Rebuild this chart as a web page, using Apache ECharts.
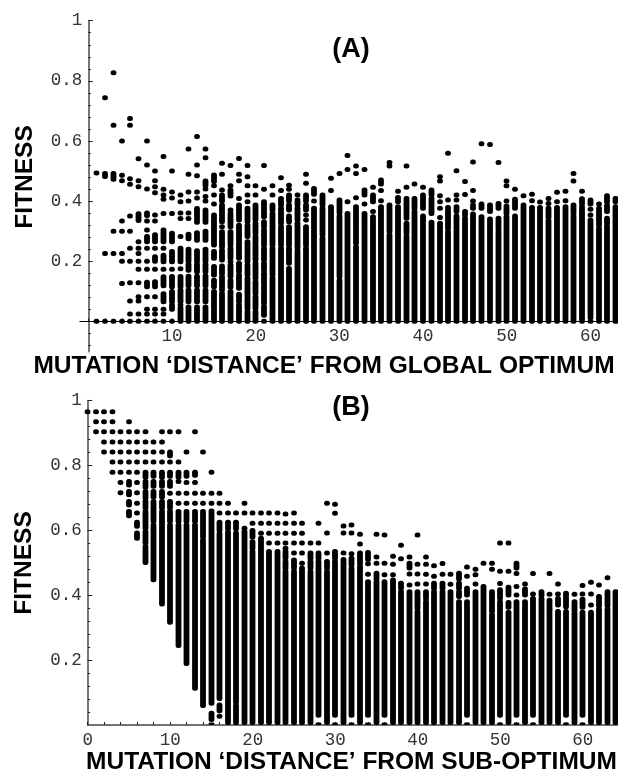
<!DOCTYPE html>
<html>
<head>
<meta charset="utf-8">
<style>
html,body{margin:0;padding:0;background:#fff;}
#chart{width:618px;height:773px;}
</style>
<script src="https://cdn.jsdelivr.net/npm/echarts@6/dist/echarts.min.js"></script>
</head>
<body>
<div id="chart"></div>
<script>
// one entry per column: a number is a lone dot, [lo,hi] is a stretch of overlapping dots
// panel A starts at x=1
const colsA = [
  [0,.493],
  [0,.226,[.482,.492],.744],
  [0,.226,.30,[.473,.492],.652,.827],
  [0,.126,.2,.226,.30,.334,.468,.486,.6],
  [0,.024,.068,.128,.2,.243,.30,.35,.456,.474,.652,.675],
  [0,.024,.068,.082,.128,.173,.2,.226,.243,.265,[.335,.358],.448,.468,.541],
  [0,.024,.04,.082,[.115,.13],.173,.2,.243,[.265,.282],.304,.334,[.352,.36],.44,.52,.6],
  [0,.024,.04,.082,[.115,.132],.173,[.2,.215],.243,[.265,.288],.334,.354,.428,.448,.468,.50],
  [0,.024,.04,[.065,.092],[.118,.148],.173,[.198,.22],.243,[.265,.304],.359,.406,.42,.439,.548],
  [0,[.04,.054],[.065,.099],[.115,.149],.173,[.198,.232],[.265,.293],.359,.41,.43,.5],
  [[0,.044],.054,[.065,.104],[.115,.149],.175,[.198,.243],.282,.342,.36,.398,.42],
  [[0,.048],[.065,.104],[.118,.15],[.17,.19],[.2,.24],[.275,.29],.342,.36,.4,.43,.489,.573],
  [[0,.048],[.065,.104],[.118,.15],[.165,.19],[.2,.235],[.27,.295],[.33,.375],.41,.43,.484,.52,.615],
  [[0,.048],[.065,.104],[.118,.152],[.165,.19],[.2,.24],[.27,.3],[.33,.37],.4,.415,.44,[.452,.467],.544,.573],
  [[0,.099],[.115,.137],[.154,.182],[.21,.232],[.254,.282],[.29,.354],.39,.42,.451,[.465,.487]],
  [[0,.054],[.06,.093],[.104,.149],[.16,.184],[.204,.237],.248,[.254,.298],.315,[.331,.387],[.4,.42],.437,.489,.526],
  [[0,.099],[.113,.137],[.149,.187],.198,[.21,.243],[.254,.298],[.315,.359],.37,[.417,.437],.451,.518],
  [[0,.054],[.065,.09],[.11,.154],[.165,.193],[.21,.243],[.248,.32],[.337,.387],.409,.468,.489,.542],
  [[0,.032],[.043,.104],[.11,.143],[.154,.187],[.198,.265],[.282,.32],[.331,.376],.398,.42,.451,.481,.518],
  [[0,.032],[.043,.082],[.093,.132],[.143,.193],[.204,.243],[.248,.282],[.293,.326],[.337,.387],.42,.451],
  [0,[.02,.049],[.06,.16],[.17,.193],[.204,.243],[.254,.304],[.315,.331],[.348,.398],.439,.518],
  [[0,.143],[.154,.243],[.254,.359],[.37,.387],.42,.451],
  [[0,.243],[.254,.315],[.326,.376],[.387,.409],.435,.478],
  [[0,.176],[.193,.243],[.254,.315],[.331,.35],[.37,.387],[.4,.42],.439,.453],
  [[0,.235],[.245,.326],[.337,.376],[.387,.404],.42],
  [[0,.243],[.254,.315],.337,.354,[.37,.387],[.4,.42],.459,.489],
  [[0,.093],[.1,.282],[.287,.376],.4,[.423,.442]],
  [[0,.276],[.287,.376],[.387,.42]],
  [[0,.33],[.337,.381],.435,.476],
  [[0,.137],[.148,.35],[.361,.404],.492],
  [[0,.359],.398,.505,.552],
  [[0,.248],[.26,.348],[.354,.381],.411,.492,.517],
  [[0,.331],[.337,.359],.39,[.42,.437],.505],
  [[0,.348],.365,[.398,.42],.446],
  [[0,.354],[.359,.381],.401,.435,[.457,.47]],
  [[0,.287],[.298,.387],.517,.528],
  [[0,.381],[.398,.412],.433],
  [[0,.282],[.293,.326],[.343,.409],.446,.517],
  [[0,.365],[.376,.409],.457],
  [[0,.35],[.376,.42],.446],
  [[0,.33],[.359,.409],[.42,.437]],
  [[0,.326],.345,.376,.398,.418,.467,.481],
  [[0,.298],[.309,.379],.404,.559],
  [[0,.35],[.365,.381],.404,.42,.501],
  [[0,.343],[.354,.365],.422,.465],
  [[0,.357],[.376,.387],.4,.435,.53],
  [[0,.348],[.376,.39],.591],
  [[0,.34],[.365,.387],.588],
  [[0,.296],[.304,.343],[.376,.392],.528],
  [[0,.348],[.359,.384],.4,.451,.467],
  [[0,.35],[.376,.406],.439],
  [[0,.387],.418],
  [[0,.379],.401,.423],
  [[0,.379],.397],
  [[0,.335],[.345,.376],.392,.409],
  [[0,.379],.398,.429],
  [[0,.381],.401,.433],
  [[0,.35],[.359,.387],.467,.492],
  [[0,.381],[.392,.408],.433],
  [0,[.012,.337],.354,.373,[.39,.404]],
  [[0,.309],[.32,.376],.39],
  [[0,.317],[.326,.343],[.365,.387],[.398,.418]],
  [[0,.381],[.398,.409]]
];

// panel B starts at x=0
const colsB = [
  [.966],
  [.966,.935,.904],
  [.966,.935,.904,.873,.842],
  [.966,.935,.904,.873,.842,.811,.779],
  [.904,.873,.842,.811,.779,.748,.716],
  [.935,.904,.873,.842,.811,.779,[.74,.751],[.71,.72],[.678,.689],[.645,.658]],
  [.904,.873,.842,.811,.779,.748,.716,.684,.654,[.613,.625],[.576,.592]],
  [.904,.873,.842,.811,[.764,.779],[.733,.751],[.70,.72],[.669,.689],[.607,.658],[.561,.596],[.501,.55]],
  [.873,.842,.811,[.767,.779],[.736,.751],[.703,.72],[.628,.689],[.448,.617]],
  [.904,.873,.842,.811,[.764,.779],[.736,.751],[.703,.72],[.669,.689],[.373,.658]],
  [.904,[.83,.842],.811,[.767,.779],[.736,.751],.715,[.669,.689],[.628,.658],[.317,.617]],
  [.904,.811,[.764,.779],.751,.715,.684,[.628,.658],[.245,.617]],
  [.842,[.767,.779],.748,.715,.684,[.628,.658],[.19,.617]],
  [.904,[.77,.779],.748,.715,.684,[.628,.658],[.113,.617]],
  [.842,.715,.684,[.58,.658],[.06,.57]],
  [.779,.715,.684,[.067,.66],[.017,.036],0],
  [.715,.684,.654,[.6,.625],[.082,.59],[.044,.062],.027],
  [.684,.654,[.605,.625],[0,.595]],
  [.654,[.605,.625],[0,.06],[.07,.592]],
  [.684,.654,.607,[0,.597]],
  [.654,.622,[.58,.6],[.545,.565],[0,.535]],
  [.654,.622,.591,[0,.576]],
  [.654,.622,.591,.561,[0,.535]],
  [.654,.622,.591,.561,[0,.535]],
  [.651,.622,.591,.561,.545,[.514,.535],[.483,.504],[0,.473]],
  [.654,.622,.591,.561,.53,[.484,.509],[0,.473]],
  [.622,.591,.561,.53,.499,[0,.484]],
  [.561,[.514,.53],[.484,.504],[0,.473]],
  [.622,.561,[.514,.53],[.03,.504],0],
  [.684,.592,.53,[.484,.504],[0,.473]],
  [.681,.653,[.514,.535],[.03,.504],0],
  [.614,.592,.53,[0,.51]],
  [.617,.592,.528,[.494,.514],[.03,.484],0],
  [.588,.558,[.499,.53],[0,.49]],
  [[.51,.532],.497,.465,[.429,.442],[.03,.42],0],
  [.588,.518,.499,[.45,.468],[0,.442]],
  [.586,.499,.463,[.03,.442],0],
  [.52,.496,.463,[0,.447]],
  [.554,.513,[.422,.437],[0,.411]],
  [.518,[.484,.499],.466,.432,[0,.411]],
  [.586,.496,.466,.435,[.36,.411],[0,.35]],
  [.518,.496,.465,.435,[.39,.411],[0,.38]],
  [.491,.459,[.422,.437],[0,.411]],
  [.498,.465,[.422,.437],[0,.411]],
  [.465,.434,[0,.411]],
  [[.45,.468],[.422,.437],[.396,.411],[0,.38]],
  [.487,.459,[.401,.422],[.03,.38],0],
  [.48,.463,.435,[0,.411]],
  [.499,[0,.427]],
  [.499,.48,[.38,.411],[.35,.373],[0,.34]],
  [.561,.474,.436,[.391,.417],[.03,.38],0],
  [.561,.474,[.401,.425],[.363,.378],[0,.348]],
  [[.484,.499],.467,.427,.401,[.03,.38],0],
  [.435,[.401,.419],[0,.38]],
  [.467,.404,[.03,.39],0],
  [[.4,.411],[0,.39]],
  [.467,.403,[.36,.385],[0,.355]],
  [.435,.404,[.37,.39],[0,.35]],
  [[.365,.406],[.03,.35],0],
  [.403,[.353,.38],[0,.345]],
  [.43,.404,[.363,.388],[.03,.348],0],
  [.44,.404,.37,[0,.348]],
  [.432,[.367,.396],[0,.357]],
  [.454,[.367,.411],[0,.357]],
  [[0,.411]]
];

const yLabels = [.2,.4,.6,.8,1];
const yMinorA = [-.08,-.04,.04,.08,.12,.16,.24,.28,.32,.36,.44,.48,.52,.56,.64,.68,.72,.76,.84,.88,.92,.96];
const yMinorB = [.04,.08,.12,.16,.24,.28,.32,.36,.44,.48,.52,.56,.64,.68,.72,.76,.84,.88,.92,.96];
const xLabelsA = [10,20,30,40,50,60];
const xLabelsB = [0,10,20,30,40,50,60];
const xTicks = [0,2,4,6,8,10,12,14,16,18,20,22,24,26,28,30,32,34,36,38,40,42,44,46,48,50,52,54,56,58,60,62,64];

function toItems(cols, firstX) {
  var items = [];
  for (var i = 0; i < cols.length; i++) {
    for (var j = 0; j < cols[i].length; j++) {
      var v = cols[i][j];
      if (Array.isArray(v)) items.push([firstX + i, v[0], v[1]]);
      else items.push([firstX + i, v, v]);
    }
  }
  return items;
}

// flatBase: panel B is cut off at the axis, dots on y=0 in panel A are not
function dotRender(flatBase) {
  return function (params, api) {
    var lo = api.coord([api.value(0), api.value(1)]);
    var hi = api.coord([api.value(0), api.value(2)]);
    var w = 5.8;
    var dotH = 5;
    var top = hi[1] - dotH / 2;
    var bottom = lo[1] + ((flatBase && api.value(1) === 0) ? 0 : dotH / 2);
    return {
      type: 'rect',
      shape: { x: Math.round(lo[0] * 2) / 2 - w / 2, y: top, width: w, height: bottom - top, r: [2.5, 2.5, 2.5, 2.5] },
      style: { fill: '#000' }
    };
  };
}

// the axes cross at zero; moved there with offset so the labels travel with them
function xAxisFor(grid, min, max, labels, lineColor, lineWidth, offset) {
  return {
    type: 'value', gridIndex: grid, min: min, max: max, interval: 1, position: 'bottom', offset: offset,
    splitLine: { show: false },
    axisLine: { show: true, onZero: false, lineStyle: { color: lineColor, width: lineWidth } },
    axisTick: { show: true, inside: true, length: 3, customValues: xTicks, lineStyle: { color: '#222', width: 1 } },
    axisLabel: { customValues: labels, margin: 6, color: '#333', fontFamily: 'Liberation Mono', fontSize: 17.5 }
  };
}

function yMain(grid, min, offset) {
  return {
    type: 'value', gridIndex: grid, min: min, max: 1, interval: .1, position: 'left', offset: offset,
    splitLine: { show: false },
    axisLine: { show: true, onZero: false, lineStyle: { color: '#777', width: 2 } },
    axisTick: { show: true, inside: true, length: 4.5, customValues: yLabels, lineStyle: { color: '#222', width: 1 } },
    axisLabel: { customValues: yLabels, margin: 6, color: '#333', fontFamily: 'Liberation Mono', fontSize: 17.5 }
  };
}

function yMinor(grid, min, ticks, offset) {
  return {
    type: 'value', gridIndex: grid, min: min, max: 1, interval: .1, position: 'left', offset: offset,
    splitLine: { show: false },
    axisLine: { show: false, onZero: false },
    axisTick: { show: true, inside: true, length: 2.5, customValues: ticks, lineStyle: { color: '#222', width: 1 } },
    axisLabel: { show: false }
  };
}

function boldText(str, x, y, size, rotated) {
  return {
    type: 'text', x: x, y: y, rotation: rotated ? Math.PI / 2 : 0,
    style: {
      text: str, fill: '#000', align: 'center', verticalAlign: 'middle',
      font: 'bold ' + size + 'px "Liberation Sans"'
    }
  };
}

const chart = echarts.init(document.getElementById('chart'), null, { renderer: 'canvas' });
chart.setOption({
  backgroundColor: '#fff',
  animation: false,
  grid: [
    { left: 79.93, top: 20.7, width: 538.07, height: 330.7 },
    { left: 87.7, top: 400.7, width: 529.7, height: 324.3 }
  ],
  xAxis: [
    xAxisFor(0, -1, 63.3, xLabelsA, '#000', 1.2, -30.1),
    xAxisFor(1, 0, 64.2, xLabelsB, '#444', 1.6, 0)
  ],
  yAxis: [
    yMain(0, -.1, -8.37),
    yMinor(0, -.1, yMinorA, -8.37),
    yMain(1, 0, 0),
    yMinor(1, 0, yMinorB, 0)
  ],
  series: [
    {
      type: 'custom', xAxisIndex: 0, yAxisIndex: 0, clip: false, silent: true, z: 1,
      encode: { x: 0, y: [1, 2] },
      renderItem: dotRender(false),
      data: toItems(colsA, 1)
    },
    {
      type: 'custom', xAxisIndex: 1, yAxisIndex: 2, clip: false, silent: true, z: 1,
      encode: { x: 0, y: [1, 2] },
      renderItem: dotRender(true),
      data: toItems(colsB, 0)
    }
  ],
  graphic: [
    boldText('(A)', 351, 50, 27, false),
    boldText('(B)', 351, 408, 27, false),
    boldText('FITNESS', 25, 177, 24.5, true),
    boldText('FITNESS', 24, 563, 24.5, true),
    boldText('MUTATION ‘DISTANCE’ FROM GLOBAL OPTIMUM', 324, 366, 24.5, false),
    boldText('MUTATION ‘DISTANCE’ FROM SUB-OPTIMUM', 351.5, 762, 24.5, false)
  ]
});
</script>
</body>
</html>
